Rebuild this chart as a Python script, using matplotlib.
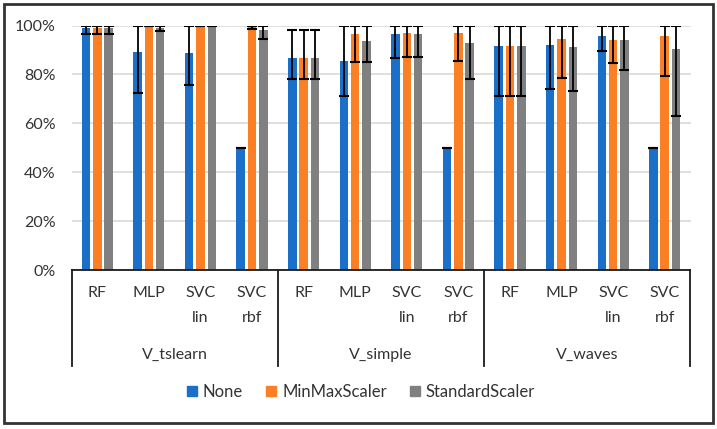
import matplotlib
matplotlib.use("Agg")
import matplotlib.pyplot as plt
import matplotlib.patches as mpatches
import matplotlib.transforms as mtrans
import numpy as np

plt.rcParams['font.family'] = ['Lato', 'DejaVu Sans']

groups = ["V_tslearn", "V_simple", "V_waves"]
models = ["RF", "MLP", "SVC\nlin", "SVC\nrbf"]
series = ["None", "MinMaxScaler", "StandardScaler"]
colors = ["#1a6fc9", "#fb7f24", "#808080"]

none_mean = [0.990, 0.890, 0.886, 0.500, 0.868, 0.853, 0.965, 0.500, 0.916, 0.920, 0.956, 0.500]
none_low  = [0.965, 0.725, 0.758, 0.500, 0.780, 0.713, 0.868, 0.500, 0.711, 0.741, 0.894, 0.500]
none_high = [1.000, 1.000, 1.000, 0.500, 0.980, 1.000, 1.000, 0.500, 1.000, 1.000, 1.000, 0.500]

mm_mean = [0.990, 1.000, 1.000, 0.993, 0.868, 0.967, 0.971, 0.971, 0.916, 0.946, 0.941, 0.956]
mm_low  = [0.965, 1.000, 1.000, 0.985, 0.780, 0.850, 0.873, 0.856, 0.711, 0.786, 0.845, 0.793]
mm_high = [1.000, 1.000, 1.000, 1.000, 0.980, 1.000, 1.000, 1.000, 1.000, 1.000, 1.000, 1.000]

ss_mean = [0.990, 0.988, 1.000, 0.980, 0.868, 0.935, 0.965, 0.930, 0.916, 0.913, 0.941, 0.905]
ss_low  = [0.965, 0.979, 1.000, 0.943, 0.780, 0.850, 0.873, 0.780, 0.711, 0.732, 0.816, 0.631]
ss_high = [1.000, 1.000, 1.000, 1.000, 0.980, 1.000, 1.000, 1.000, 1.000, 1.000, 1.000, 1.000]

yticks = [0, 0.2, 0.4, 0.6, 0.8, 1.0]
ytick_labels = ["0%", "20%", "40%", "60%", "80%", "100%"]

W, H = 717, 429
fig = plt.figure(figsize=(W / 100, H / 100), dpi=100)
ax = fig.add_axes([71.5 / W, (H - 270) / H, 619 / W, 244.5 / H])

n = len(groups) * len(models)
x = np.arange(n)
width = 0.165
offs = [-0.22, 0.0, 0.22]
data = [(none_mean, none_low, none_high), (mm_mean, mm_low, mm_high), (ss_mean, ss_low, ss_high)]
for i, (m, lo, hi) in enumerate(data):
    m = np.array(m); lo = np.array(lo); hi = np.array(hi)
    ax.bar(x + offs[i], m, width=width, color=colors[i], label=series[i], zorder=2)
    ax.errorbar(x + offs[i], m, yerr=[m - lo, hi - m], fmt="none", ecolor="black",
                elinewidth=1.3, capsize=3.3, capthick=1.5, zorder=3)

ax.set_xlim(-0.5, n - 0.5)
ax.set_ylim(0, 1.0)
ax.set_yticks(yticks)
ax.set_yticklabels(ytick_labels, fontsize=11.5, color="#333333")
ax.tick_params(axis="y", length=0, pad=11.5)
ax.set_xticks([])
ax.grid(axis="y", color="#d9d9d9", linewidth=1.2, zorder=0)
ax.set_axisbelow(True)
for s in ["left", "right", "top"]:
    ax.spines[s].set_visible(False)
ax.spines["bottom"].set_color("#1a1a1a")
ax.spines["bottom"].set_linewidth(1.3)

tr = mtrans.blended_transform_factory(ax.transData, ax.transAxes)
ybot = (270 - 366) / 244.5
for b in [-0.5, 3.5, 7.5, 11.5]:
    ax.plot([b, b], [0, ybot], color="#1a1a1a", lw=1.3, transform=tr, clip_on=False)

y1 = (270 - 293) / 244.5
for k in range(n):
    lab = models[k % len(models)]
    lines = lab.split("\n")
    ax.text(x[k], y1, lines[0], transform=tr, ha="center", va="center",
            fontsize=11.5, color="#333333")
    if len(lines) > 1:
        ax.text(x[k], (270 - 318) / 244.5, lines[1], transform=tr, ha="center",
                va="center", fontsize=11.5, color="#333333")

yg = (270 - 355) / 244.5
for gi, g in enumerate(groups):
    ax.text(gi * 4 + 1.5, yg, g, transform=tr, ha="center", va="center",
            fontsize=11.5, color="#333333")

handles = [mpatches.Patch(color=c) for c in colors]
fig.legend(handles, series, loc="center", bbox_to_anchor=(361 / W, (H - 392) / H),
           ncol=3, frameon=False, fontsize=12, handlelength=0.6, handleheight=0.6,
           handletextpad=0.35, columnspacing=1.4, labelcolor="#333333")

fig.patches.append(mpatches.Rectangle((4 / W, 6 / H), 709 / W, 419 / H, transform=fig.transFigure,
                                      fill=False, edgecolor="#333333", linewidth=2))

fig.savefig("out.png", dpi=100, facecolor="white")
